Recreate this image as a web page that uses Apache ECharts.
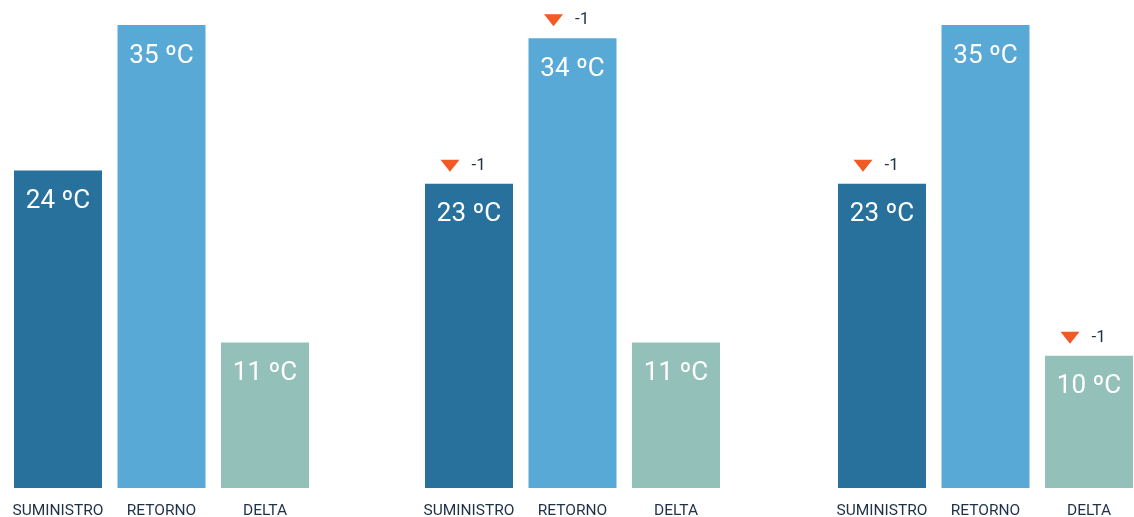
<!DOCTYPE html>
<html>
<head>
<meta charset="utf-8">
<script src="https://cdn.jsdelivr.net/npm/echarts@6/dist/echarts.min.js"></script>
<style>
  html, body { margin: 0; padding: 0; background: #fff; }
  #chart { width: 1134px; height: 517px; }
</style>
</head>
<body>
<div id="chart"></div>
<script>
// categories shared by every panel
const categories = ['SUMINISTRO', 'RETORNO', 'DELTA']

// temperatures per panel (ºC)
const panel1Values = [24, 35, 11]
const panel2Values = [23, 34, 11]
const panel3Values = [23, 35, 10]

// change vs previous reading (null = no indicator)
const panel1Deltas = [null, null, null]
const panel2Deltas = [-1, -1, null]
const panel3Deltas = [-1, null, -1]

const barColors = ['#28719c', '#59a9d7', '#93c0b8']
const arrowColor = '#f15a24'
const textColor = '#1f3147'

const panels = [
  { values: panel1Values, deltas: panel1Deltas, left: 6.25 },
  { values: panel2Values, deltas: panel2Deltas, left: 417.25 },
  { values: panel3Values, deltas: panel3Deltas, left: 830.25 }
]

const chart = echarts.init(document.getElementById('chart'))

const grid = []
const xAxis = []
const yAxis = []
const series = []

panels.forEach((p, i) => {
  grid.push({
    left: p.left,
    width: 310.5,
    top: 25,
    bottom: 29,
    outerBoundsMode: 'none'
  })
  xAxis.push({
    type: 'category',
    gridIndex: i,
    data: categories,
    axisLine: { show: false },
    axisTick: { show: false },
    axisLabel: {
      interval: 0,
      color: textColor,
      fontFamily: 'Roboto',
      fontSize: 15.5,
      margin: 15
    }
  })
  yAxis.push({
    type: 'value',
    gridIndex: i,
    min: 0,
    max: 35,
    show: false,
    splitLine: { show: false }
  })
  series.push({
    type: 'bar',
    xAxisIndex: i,
    yAxisIndex: i,
    barWidth: 88,
    data: p.values.map((v, k) => ({ value: v, itemStyle: { color: barColors[k] } })),
    label: {
      show: true,
      position: 'insideTop',
      distance: 18,
      color: '#fff',
      fontFamily: 'Roboto',
      fontSize: 26,
      formatter: '{c} ºC'
    },
    emphasis: { disabled: true },
    silent: true
  })
  // downward arrows with the delta value
  const marks = []
  p.deltas.forEach((d, k) => {
    if (d !== null) marks.push({ value: [k, p.values[k]], delta: d })
  })
  series.push({
    type: 'scatter',
    xAxisIndex: i,
    yAxisIndex: i,
    symbol: 'path://M0,0 L20,0 L10,12 Z',
    symbolSize: [19, 12],
    symbolOffset: [-19, -18],
    itemStyle: { color: arrowColor, opacity: 1 },
    data: marks,
    label: {
      show: true,
      position: 'right',
      distance: 12,
      color: textColor,
      fontFamily: 'Roboto',
      fontSize: 17,
      formatter: (params) => String(params.data.delta)
    },
    silent: true
  })
})

chart.setOption({
  animation: false,
  grid: grid,
  xAxis: xAxis,
  yAxis: yAxis,
  series: series
})
</script>
</body>
</html>
